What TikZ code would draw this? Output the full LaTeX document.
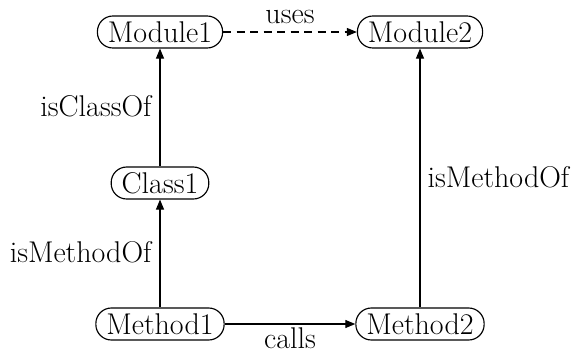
\documentclass[tikz,border=0pt]{standalone}
\usetikzlibrary{arrows.meta}
\tikzset{
  every picture/.style={line width=1.15pt, x=1pt, y=-1pt},
  entity/.style={draw, rounded corners=15.5pt, minimum height=32pt,
    inner xsep=10.5pt, inner ysep=0pt, font=\fontsize{30}{36}\selectfont},
  lbl/.style={inner sep=0pt, font=\fontsize{30}{36}\selectfont},
  link/.style={-{Triangle[length=10pt,width=8pt]}},
}
\begin{document}
\begin{tikzpicture}
  \useasboundingbox (0,0) rectangle (571,354);
  \node[entity] (mod1) at (160,32) {Module1};
  \node[entity] (mod2) at (420,32) {Module2};
  \node[entity] (cls1) at (160,183) {Class1};
  \node[entity] (met1) at (160,324) {Method1};
  \node[entity] (met2) at (420,324) {Method2};

  \draw[link, dash pattern=on 8pt off 5.5pt] (mod1) -- (mod2);
  \draw[link] (cls1) -- (mod1);
  \draw[link] (met1) -- (cls1);
  \draw[link] (met2) -- (mod2);
  \draw[link] (met1) -- (met2);

  \node[lbl] (uses) at (290,17) {uses};
  \node[lbl] (calls) at (290,338) {calls};
  \node[lbl, anchor=east] (iscls) at (152,106) {isClassOf};
  \node[lbl, anchor=east] (ismet1) at (152,252) {isMethodOf};
  \node[lbl, anchor=west] (ismet2) at (427,177) {isMethodOf};
\end{tikzpicture}
\end{document}
